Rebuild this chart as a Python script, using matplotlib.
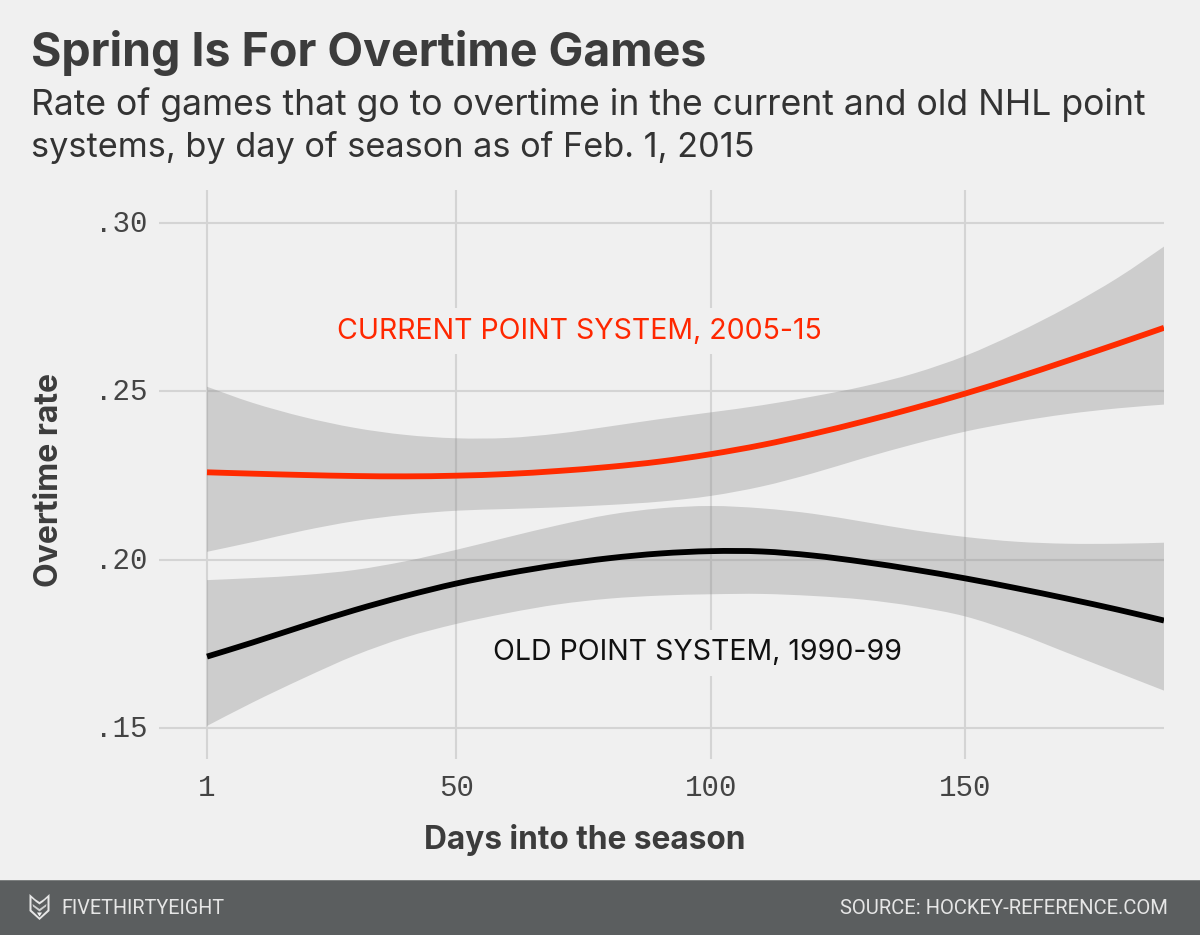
import matplotlib
matplotlib.use("Agg")
import matplotlib.pyplot as plt
from matplotlib.patches import PathPatch, Polygon, Rectangle
from matplotlib.path import Path
from matplotlib.transforms import ScaledTranslation

WIDTH, HEIGHT = 1200, 935
BG = "#f0f0f0"
INK = "#3c3c3c"
GRID = "#d4d4d4"
FOOTER = "#5b5e5f"
FOOTER_TEXT = "#e6e6e6"
RED = "#ff2b00"

days = [1, 10, 20, 30, 40, 50, 60, 70, 80, 90, 100,
        110, 120, 130, 140, 150, 160, 170, 180, 189]

current_mean = [.2260, .2256, .2252, .2249, .2248, .2250, .2255, .2264, .2276, .2292, .2314,
                .2341, .2374, .2411, .2451, .2494, .2541, .2591, .2642, .2689]
current_high = [.2514, .2466, .2424, .2392, .2371, .2361, .2362, .2375, .2396, .2418, .2438,
                .2459, .2485, .2515, .2554, .2606, .2673, .2750, .2838, .2930]
current_low = [.2024, .2053, .2087, .2115, .2134, .2146, .2151, .2156, .2163, .2173, .2190,
               .2218, .2257, .2302, .2344, .2381, .2410, .2433, .2450, .2461]

old_mean = [.1713, .1755, .1804, .1851, .1893, .1930, .1960, .1985, .2005, .2019, .2026,
            .2025, .2013, .1994, .1971, .1945, .1916, .1885, .1852, .1820]
old_high = [.1940, .1946, .1955, .1970, .1996, .2030, .2067, .2103, .2134, .2153, .2160,
            .2153, .2137, .2113, .2088, .2068, .2054, .2048, .2048, .2051]
old_low = [.1507, .1577, .1649, .1716, .1770, .1810, .1842, .1868, .1885, .1894, .1898,
           .1899, .1893, .1882, .1862, .1832, .1783, .1724, .1665, .1612]

x_ticks = [1, 50, 100, 150]
x_tick_labels = ["1", "50", "100", "150"]
y_ticks = [.15, .20, .25, .30]
y_tick_labels = [".15", ".20", ".25", ".30"]


def fx(px):
    return px / WIDTH


def fy(py):
    return 1 - py / HEIGHT


def bezier_through(xs, ys):
    """Cubic Bezier vertices passing through every (x, y), Catmull-Rom style."""
    pts = list(zip(xs, ys))
    verts = []
    for i in range(len(pts) - 1):
        p0 = pts[max(i - 1, 0)]
        p1 = pts[i]
        p2 = pts[i + 1]
        p3 = pts[min(i + 2, len(pts) - 1)]
        verts.append((p1[0] + (p2[0] - p0[0]) / 6, p1[1] + (p2[1] - p0[1]) / 6))
        verts.append((p2[0] - (p3[0] - p1[0]) / 6, p2[1] - (p3[1] - p1[1]) / 6))
        verts.append(p2)
    return verts


def draw_curve(ax, xs, ys, color):
    verts = [(xs[0], ys[0])] + bezier_through(xs, ys)
    codes = [Path.MOVETO] + [Path.CURVE4] * (len(verts) - 1)
    ax.add_patch(PathPatch(Path(verts, codes), facecolor="none", edgecolor=color,
                           linewidth=4.2, capstyle="butt", zorder=4))


def draw_band(ax, xs, low, high):
    up = bezier_through(xs, high)
    down = bezier_through(xs[::-1], low[::-1])
    verts = [(xs[0], high[0])] + up + [(xs[-1], low[-1])] + down + [(xs[0], high[0])]
    codes = ([Path.MOVETO] + [Path.CURVE4] * len(up) + [Path.LINETO]
             + [Path.CURVE4] * len(down) + [Path.CLOSEPOLY])
    ax.add_patch(PathPatch(Path(verts, codes), facecolor="#808080", edgecolor="none",
                           alpha=.31, zorder=3))


fig = plt.figure(figsize=(WIDTH / 100, HEIGHT / 100), dpi=100, facecolor=BG)
ax = fig.add_axes([fx(159), fy(759), fx(1164) - fx(159), fy(190) - fy(759)], facecolor=BG)
ax.set_xlim(-8.43, 189)
ax.set_ylim(.1409, .3098)

ax.set_xticks(x_ticks, x_tick_labels)
ax.set_yticks(y_ticks, y_tick_labels)
ax.grid(True, color=GRID, linewidth=1.5, zorder=1)
ax.set_axisbelow(True)
ax.tick_params(length=0, colors="#444444", labelsize=21)
ax.tick_params(axis="y", pad=8)
ax.tick_params(axis="x", pad=11)
for label in ax.get_xticklabels() + ax.get_yticklabels():
    label.set_family("Liberation Mono")
# The value labels sit a touch above their gridlines
nudge_up = ScaledTranslation(0, 2 / 100, fig.dpi_scale_trans)
for label in ax.get_yticklabels():
    label.set_transform(label.get_transform() + nudge_up)
for spine in ax.spines.values():
    spine.set_visible(False)

draw_band(ax, days, current_low, current_high)
draw_band(ax, days, old_low, old_high)
draw_curve(ax, days, current_mean, RED)
draw_curve(ax, days, old_mean, "black")

label_box = dict(facecolor=BG, edgecolor="none", pad=7)
ax.text(74.1, .2679, "CURRENT POINT SYSTEM, 2005-15", color="#ff2700", fontsize=20.5,
        family="Inter", ha="center", va="center", bbox=label_box, zorder=2)
ax.text(97.4, .1724, "OLD POINT SYSTEM, 1990-99", color="#111111", fontsize=20.5,
        family="Inter", ha="center", va="center", bbox=label_box, zorder=2)

ax.set_xlabel("Days into the season", fontsize=22.8, fontweight="bold", color=INK,
              family="Inter", va="center", ha="center")
ax.xaxis.set_label_coords(fx(585), fy(840), transform=fig.transFigure)
ax.set_ylabel("Overtime rate", fontsize=23, fontweight="bold", color=INK,
              family="Inter", va="center", ha="center")
ax.yaxis.set_label_coords(fx(50), fy(480), transform=fig.transFigure)

fig.text(fx(31), fy(66), "Spring Is For Overtime Games", fontsize=33.5, fontweight="bold",
         color=INK, family="Inter", va="baseline")
fig.text(fx(31), fy(115), "Rate of games that go to overtime in the current and old NHL point",
         fontsize=25.6, color="#333333", family="Inter", va="baseline")
fig.text(fx(31), fy(157), "systems, by day of season as of Feb. 1, 2015",
         fontsize=24.7, color="#333333", family="Inter", va="baseline")

# Footer band and its thin highlight
fig.add_artist(Rectangle((0, 0), 1, fy(881), transform=fig.transFigure, facecolor=FOOTER, edgecolor="none"))
fig.add_artist(Rectangle((0, fy(881)), 1, 1 / HEIGHT, transform=fig.transFigure, facecolor="#7c7f7f", edgecolor="none"))

fig.text(fx(61), fy(908), "FIVETHIRTYEIGHT", fontsize=14.2, color=FOOTER_TEXT,
         family="Roboto", va="center", ha="left")
fig.text(fx(1168), fy(908), "SOURCE: HOCKEY-REFERENCE.COM", fontsize=14.6, color=FOOTER_TEXT,
         family="Roboto", va="center", ha="right")


def logo_shape(points, color):
    verts = [(fx(x), fy(y)) for x, y in points]
    fig.add_artist(Polygon(verts, closed=True, transform=fig.transFigure, facecolor=color, edgecolor="none"))


# Fox-head logo: pale outline, dark interior, then the muzzle chevron and nose
logo_shape([(29.5, 894), (35, 899), (39.5, 902), (44, 899), (49.5, 894), (49.5, 911), (39.5, 920), (29.5, 911)], FOOTER_TEXT)
logo_shape([(31.5, 898), (36, 902), (39.5, 904.5), (43, 902), (47.5, 898), (47.5, 910), (39.5, 917.5), (31.5, 910)], FOOTER)
logo_shape([(32.5, 904), (39.5, 909), (46.5, 904), (46, 906.5), (39.5, 911.5), (33, 906.5)], "#cfd0d0")
logo_shape([(37, 912.5), (42, 912.5), (39.5, 916.5)], "#f4f4f4")

fig.savefig("out.png", dpi=100, facecolor=BG)
